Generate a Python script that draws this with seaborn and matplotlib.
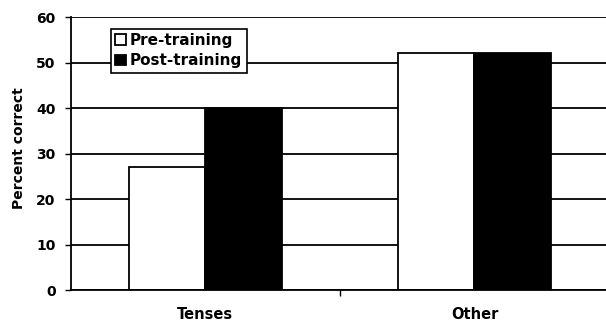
import matplotlib
matplotlib.use("Agg")
import matplotlib.pyplot as plt
import seaborn as sns
import pandas as pd

categories = ["Tenses", "Other"]
pre_training = [27, 52]
post_training = [40, 52]
series_names = ["Pre-training", "Post-training"]
y_ticks = [0, 10, 20, 30, 40, 50, 60]

df = pd.DataFrame({
    "category": categories * 2,
    "value": pre_training + post_training,
    "phase": [series_names[0]] * len(categories) + [series_names[1]] * len(categories),
})

sns.set_style("white")
plt.rcParams["font.family"] = ["DejaVu Sans"]
plt.rcParams["font.weight"] = "bold"
plt.rcParams["text.color"] = "black"
plt.rcParams["axes.labelcolor"] = "black"
plt.rcParams["xtick.color"] = "black"
plt.rcParams["ytick.color"] = "black"

fig = plt.figure(figsize=(6.06, 3.22), dpi=100)
ax = fig.add_axes([0.117, 0.099, 0.888, 0.848])

# horizontal gridlines sit behind the bars
for y in y_ticks:
    ax.axhline(y, color="black", lw=1.3, zorder=0)

sns.barplot(data=df, x="category", y="value", hue="phase",
            palette=["white", "black"], edgecolor="black", linewidth=1.3,
            width=0.57, gap=0, ax=ax, zorder=2, legend=True)

ax.set_ylim(0, 60)
ax.set_yticks(y_ticks)
ax.set_xlim(-0.5, 1.5)
ax.set_xticks([0.5], minor=True)
ax.tick_params(axis="x", which="minor", length=4, width=1, direction="out", bottom=True)
ax.tick_params(axis="x", which="major", length=0, pad=12)
ax.tick_params(axis="y", length=4, width=1, direction="out", left=True, pad=7)
for lbl in ax.get_yticklabels():
    lbl.set_fontsize(10)
    lbl.set_fontweight("bold")
for lbl in ax.get_xticklabels():
    lbl.set_fontsize(10.5)
    lbl.set_fontweight("bold")

ax.set_xlabel("")
ax.set_ylabel("Percent correct", fontsize=10, fontweight="bold")
ax.yaxis.set_label_coords(-0.083, 0.52)

for side in ["top", "right"]:
    ax.spines[side].set_visible(False)
ax.spines["left"].set_color("black")
ax.spines["bottom"].set_color("black")
ax.spines["left"].set_linewidth(1.3)
ax.spines["bottom"].set_linewidth(1.3)

leg = ax.legend(loc="upper left", bbox_to_anchor=(0.074, 0.958), frameon=True,
                fancybox=False, edgecolor="black", framealpha=1,
                prop={"size": 11, "weight": "bold"}, handlelength=0.7,
                handleheight=0.7, handletextpad=0.25, borderpad=0.3,
                labelspacing=0.35, borderaxespad=0)
leg.get_frame().set_linewidth(1.2)
for h in leg.legend_handles:
    h.set_edgecolor("black")

fig.savefig("out.png", dpi=100, facecolor="white")
